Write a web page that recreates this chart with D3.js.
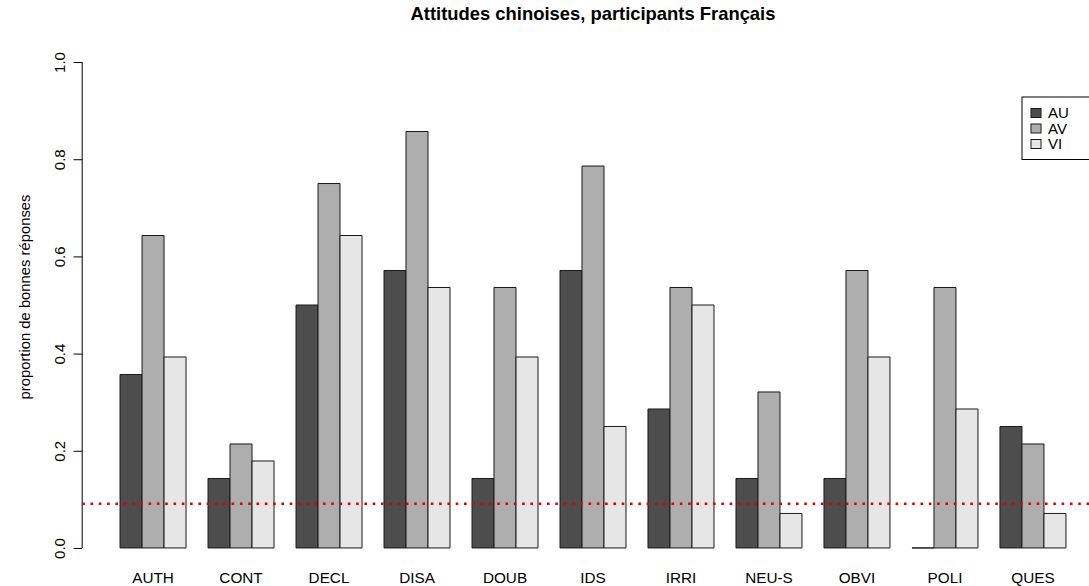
<!DOCTYPE html>
<html>
<head>
<meta charset="utf-8">
<script src="https://cdn.jsdelivr.net/npm/d3@7"></script>
<style>
  html, body { margin: 0; padding: 0; background: #fff; }
  svg { display: block; }
  text { font-family: "Liberation Sans", Arial, Helvetica, sans-serif; fill: #000; }
</style>
</head>
<body>
<svg id="chart" width="1089" height="586"></svg>
<script>
// ---- data ----
const categories = ["AUTH", "CONT", "DECL", "DISA", "DOUB", "IDS", "IRRI", "NEU-S", "OBVI", "POLI", "QUES"];
const seriesNames = ["AU", "AV", "VI"];
const valuesAU = [0.357, 0.143, 0.500, 0.571, 0.143, 0.571, 0.286, 0.143, 0.143, 0.000, 0.250];
const valuesAV = [0.643, 0.214, 0.750, 0.857, 0.536, 0.786, 0.536, 0.321, 0.571, 0.536, 0.214];
const valuesVI = [0.393, 0.179, 0.643, 0.536, 0.393, 0.250, 0.500, 0.071, 0.393, 0.286, 0.071];
const yTicks = [0.0, 0.2, 0.4, 0.6, 0.8, 1.0];
const chanceLevel = 1 / 11;
const title = "Attitudes chinoises, participants Français";
const yLabel = "proportion de bonnes réponses";

const seriesValues = [valuesAU, valuesAV, valuesVI];
const colors = ["#4D4D4D", "#AEAEAE", "#E6E6E6"];

// ---- layout (R barplot style, beside=TRUE) ----
const plotLeft = 82.2, plotRight = 1103.8, plotTop = 42.6, plotBottom = 567.4;
const svg = d3.select("#chart");

// x in bar units: group i occupies [1 + 4i, 4 + 4i]; xlim [1,44] extended by 4%
const nUnits = categories.length * 4;
const ext = (nUnits - 1) * 0.04;
const x = d3.scaleLinear().domain([1 - ext, nUnits + ext]).range([plotLeft, plotRight]);
const y = d3.scaleLinear().domain([-0.04, 1.04]).range([plotBottom, plotTop]);

// bars
const bars = [];
categories.forEach((c, i) => {
  seriesValues.forEach((vals, s) => {
    bars.push({ cat: c, s: s, v: vals[i], x0: 1 + 4 * i + s, x1: 2 + 4 * i + s });
  });
});

svg.append("g").selectAll("path").data(bars).enter().append("path")
  .attr("d", d => {
    const x0 = x(d.x0), x1 = x(d.x1), y0 = y(0), y1 = y(d.v);
    return `M${x0},${y0}H${x1}V${y1}H${x0}Z`;
  })
  .attr("fill", d => colors[d.s])
  .attr("stroke", "#1a1a1a")
  .attr("stroke-width", 1);

// category labels
svg.append("g").selectAll("text").data(categories).enter().append("text")
  .attr("x", (d, i) => x(2.5 + 4 * i))
  .attr("y", 583)
  .attr("text-anchor", "middle")
  .style("font-size", "15.3px")
  .text(d => d);

// y axis
const yAxis = d3.axisLeft(y).tickValues(yTicks).tickFormat(d3.format(".1f")).tickSize(8.6).tickPadding(0);
const gy = svg.append("g").attr("transform", `translate(${plotLeft},0)`).call(yAxis);
gy.select(".domain").attr("d", `M0,${y(0)}V${y(1)}`).attr("stroke", "#000");
gy.selectAll(".tick line").attr("stroke", "#000");
gy.selectAll(".tick text")
  .attr("x", 0).attr("dy", null)
  .attr("transform", d => `translate(-17.5,0) rotate(-90)`)
  .attr("text-anchor", "middle")
  .style("font-family", "'Liberation Sans', Arial, sans-serif")
  .style("font-size", "15px")
  .attr("fill", "#000");

// y label
svg.append("text")
  .attr("transform", `translate(30,297) rotate(-90)`)
  .attr("text-anchor", "middle")
  .style("font-size", "14.8px")
  .text(yLabel);

// title
svg.append("text")
  .attr("x", (plotLeft + plotRight) / 2)
  .attr("y", 20)
  .attr("text-anchor", "middle")
  .style("font-size", "18.4px")
  .style("font-weight", "bold")
  .text(title);

// chance line
svg.append("line")
  .attr("x1", plotLeft).attr("x2", plotRight)
  .attr("y1", y(chanceLevel)).attr("y2", y(chanceLevel))
  .attr("stroke", "#e00000")
  .attr("stroke-width", 2.6)
  .attr("stroke-dasharray", "2.6,5.7");

// legend
const lg = svg.append("g");
const lgLeft = 1022, lgTop = 97, rowH = 15.5;
lg.append("rect")
  .attr("x", lgLeft).attr("y", lgTop)
  .attr("width", 100).attr("height", rowH * 3 + 16)
  .attr("fill", "#fff").attr("stroke", "#000").attr("stroke-width", 1);
seriesNames.forEach((n, i) => {
  const cy = lgTop + 16 + i * rowH;
  lg.append("rect")
    .attr("x", lgLeft + 9).attr("y", cy - 4.5)
    .attr("width", 10).attr("height", 9)
    .attr("fill", colors[i]).attr("stroke", "#1a1a1a").attr("stroke-width", 1);
  lg.append("text")
    .attr("x", lgLeft + 26).attr("y", cy + 5)
    .style("font-size", "15px")
    .text(n);
});
</script>
</body>
</html>
